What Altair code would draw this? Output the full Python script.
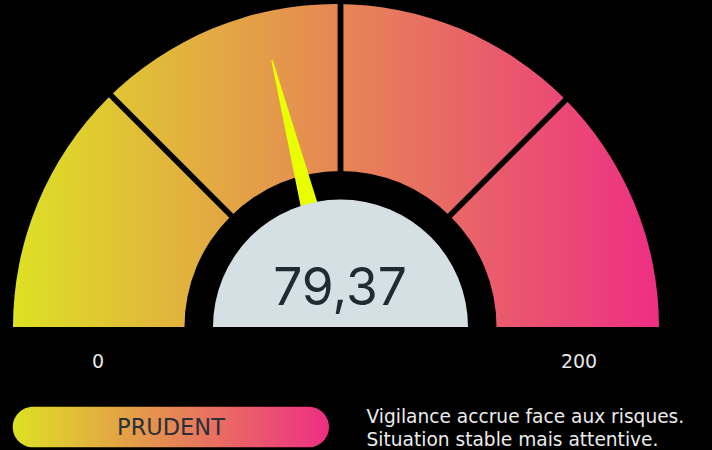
import math
import altair as alt
import pandas as pd
import jinja2

# ---------------- data ----------------
gauge_min = 0
gauge_max = 200
value_text = "79,37"
needle_reading = 84          # where the needle points on the 0-200 dial, as drawn
separators = [50, 100, 150]
end_labels = [0, 200]
status_label = "PRUDENT"
message_lines = ["Vigilance accrue face aux risques.", "Situation stable mais attentive."]
gradient_colors = ["#dde124", "#ee2e84"]

# ---------------- styling / layout ----------------
W, H = 712, 450
FONT = "Inter"
WIDE = "DejaVu Sans"
X = alt.Scale(domain=[0, W], nice=False, zero=False)
Y = alt.Scale(domain=[0, H], reverse=True, nice=False, zero=False)
TH = alt.Scale(domain=[gauge_min, gauge_max], range=[1.5 * math.pi, 2.5 * math.pi])

grad = alt.Gradient(
    gradient="linear",
    stops=[alt.GradientStop(offset=0, color=gradient_colors[0]),
           alt.GradientStop(offset=1, color=gradient_colors[1])],
    x1=0, x2=1, y1=0, y2=0,
)

# coloured band (one arc, one gradient)
band_df = pd.DataFrame({"start": [gauge_min], "end": [gauge_max]})
band = alt.Chart(band_df).mark_arc(radius=323, radius2=150, color=grad).transform_calculate(
    cx="336", cy="327"
).encode(
    theta=alt.Theta("start:Q", scale=TH, stack=False),
    theta2="end:Q",
    x=alt.X("cx:Q", scale=X, axis=None),
    y=alt.Y("cy:Q", scale=Y, axis=None),
)

# black separators at the zone limits
sep_df = pd.DataFrame({"v": separators})
seps = alt.Chart(sep_df).mark_rule(color="#000000", strokeWidth=5.8).transform_calculate(
    ang=f"PI*(1 - datum.v/{gauge_max})",
    x0="340.5", y0="325",
    x1="340.5 + 345*cos(datum.ang)",
    y1="325 - 345*sin(datum.ang)",
).encode(
    x=alt.X("x0:Q", scale=X, axis=None), y=alt.Y("y0:Q", scale=Y, axis=None),
    x2="x1:Q", y2="y1:Q",
)

# black ring (half disk)
ring = alt.Chart(pd.DataFrame({"k": [0]})).mark_arc(
    radius=156, theta=1.5 * math.pi, theta2=2.5 * math.pi, color="#000000"
).transform_calculate(cx="340.5", cy="327").encode(
    x=alt.X("cx:Q", scale=X, axis=None), y=alt.Y("cy:Q", scale=Y, axis=None)
)

# needle
needle_df = pd.DataFrame({"v": [needle_reading, needle_reading], "i": [0, 1]})
needle = alt.Chart(needle_df).mark_trail(color="#e9ff00").transform_calculate(
    ang=f"PI*(1 - datum.v/{gauge_max})",
    r="datum.i == 0 ? 95 : 275",
    w="datum.i == 0 ? 20.5 : 1.5",
    nx="340.5 + datum.r*cos(datum.ang)",
    ny="327 - datum.r*sin(datum.ang)",
).encode(
    x=alt.X("nx:Q", scale=X, axis=None), y=alt.Y("ny:Q", scale=Y, axis=None),
    size=alt.Size("w:Q", scale=None, legend=None),
    order=alt.Order("i:Q"),
)

# light centre disk
disk = alt.Chart(pd.DataFrame({"k": [0]})).mark_arc(
    radius=127.5, theta=1.5 * math.pi, theta2=2.5 * math.pi, color="#d5e0e5"
).transform_calculate(cx="340.5", cy="327").encode(
    x=alt.X("cx:Q", scale=X, axis=None), y=alt.Y("cy:Q", scale=Y, axis=None)
)

# value
value = alt.Chart(pd.DataFrame({"t": [value_text]})).mark_text(
    font=FONT, fontSize=51.5, color="#1f2a31", align="center", baseline="alphabetic"
).transform_calculate(px="340", py="304.5").encode(
    x=alt.X("px:Q", scale=X, axis=None), y=alt.Y("py:Q", scale=Y, axis=None), text="t:N"
)

# 0 / 200 labels
ends_df = pd.DataFrame({"v": end_labels})
ends = alt.Chart(ends_df).mark_text(
    font=WIDE, fontSize=19, color="#e8e8e8", align="center", baseline="alphabetic"
).transform_calculate(
    ang=f"PI*(1 - datum.v/{gauge_max})",
    px="338.5 + 240.5*cos(datum.ang)", py="368.3",
    lab="format(datum.v, 'd')",
).encode(
    x=alt.X("px:Q", scale=X, axis=None), y=alt.Y("py:Q", scale=Y, axis=None), text="lab:N"
)

# status pill
pill = alt.Chart(pd.DataFrame({"k": [0]})).mark_rect(
    color=grad, cornerRadius=20.3
).encode(
    x=alt.value(12.7), x2=alt.value(329),
    y=alt.value(406.7), y2=alt.value(447.3),
)
status = alt.Chart(pd.DataFrame({"t": [status_label]})).mark_text(
    font=WIDE, fontSize=22.5, color="#283038", align="center", baseline="alphabetic"
).encode(x=alt.value(171), y=alt.value(435), text="t:N")

# message
msg_df = pd.DataFrame({"line": message_lines, "i": list(range(len(message_lines)))})
msg = alt.Chart(msg_df).mark_text(
    font=WIDE, fontSize=18.6, color="#ebebeb", align="left", baseline="alphabetic"
).transform_calculate(px="366.5", py="423.3 + datum.i*22.7").encode(
    x=alt.X("px:Q", scale=X, axis=None), y=alt.Y("py:Q", scale=Y, axis=None), text="line:N"
)

chart = alt.layer(band, seps, ring, needle, disk, value, ends, pill, status, msg).properties(
    width=W, height=H, background="#000000", padding=0,
    autosize=alt.AutoSizeParams(type="none"),
).configure_view(stroke=None, strokeWidth=0)

TEMPLATE = jinja2.Template("""<!DOCTYPE html>
<html>
<head>
  <style>
    html, body { background: #000000; overflow: hidden; margin: 0; padding: 0; }
    #{{ output_div }}.vega-embed { display: block; }
    #{{ output_div }} svg { display: block; flex-shrink: 0; }
  </style>
  <script type="text/javascript" src="{{ base_url }}/vega@{{ vega_version }}"></script>
  <script type="text/javascript" src="{{ base_url }}/vega-lite@{{ vegalite_version }}"></script>
  <script type="text/javascript" src="{{ base_url }}/vega-embed@{{ vegaembed_version }}"></script>
</head>
<body>
  <div id="{{ output_div }}"></div>
  <script type="text/javascript">
    vegaEmbed("#{{ output_div }}", {{ spec }}, {{ embed_options }}).catch(console.error);
  </script>
</body>
</html>
""")

chart.save("out.html", embed_options={"renderer": "svg", "actions": False}, template=TEMPLATE)
